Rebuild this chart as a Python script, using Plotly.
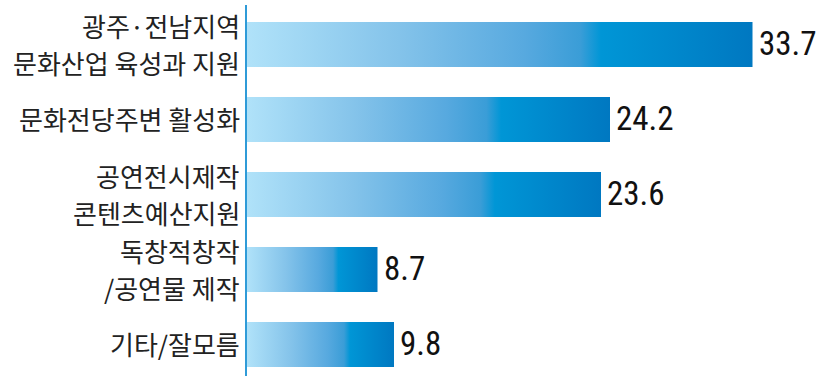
import plotly.graph_objects as go

categories = ["광주·전남지역\n문화산업 육성과 지원", "문화전당주변 활성화", "공연전시제작\n콘텐츠예산지원",
              "독창적창작\n/공연물 제작", "기타/잘모름"]
values = [33.7, 24.2, 23.6, 8.7, 9.8]
value_labels = ["33.7", "24.2", "23.6", "8.7", "9.8"]

grad = [[0.0, "#b0e2f9"], [0.3, "#84c3ea"], [0.55, "#57a9df"], [0.66, "#3a9dd7"],
        [0.70, "#0096d6"], [1.0, "#0078c1"]]

fig = go.Figure()
half = 0.3
for i, (c, v) in enumerate(zip(categories, values)):
    fig.add_trace(go.Scatter(
        x=[0, v, v, 0, 0], y=[i - half, i - half, i + half, i + half, i - half],
        mode="lines", line=dict(width=0), fill="toself",
        fillgradient=dict(type="horizontal", colorscale=grad),
        hoverinfo="skip", showlegend=False))

annotations = []
for i, (c, v, t) in enumerate(zip(categories, values, value_labels)):
    annotations.append(dict(x=v, y=i, xref="x", yref="y", text=t, showarrow=False,
                            xanchor="left", yanchor="middle", xshift=4, yshift=1,
                            font=dict(family="Liberation Sans Narrow, Roboto Condensed, DejaVu Sans Condensed, sans-serif",
                                      size=33, color="#111111")))
    lines = c.split("\n")
    n = len(lines)
    for k, ln in enumerate(lines):
        annotations.append(dict(x=0, y=i, xref="paper", yref="y", text=ln, showarrow=False,
                                xanchor="right", yanchor="middle", xshift=-5,
                                yshift=(n - 1) / 2 * 37 - k * 37 + 1,
                                font=dict(family="Noto Sans CJK KR", size=26, color="#222222")))

fig.update_layout(
    width=817, height=376,
    margin=dict(l=247, r=0, t=5, b=0),
    paper_bgcolor="white", plot_bgcolor="white",
    xaxis=dict(range=[0, 38.0], visible=False, fixedrange=True),
    yaxis=dict(range=[4.42, -0.527], showticklabels=False, showgrid=False, zeroline=False,
               showline=True, linecolor="#2f9bd8", linewidth=2, ticks="", fixedrange=True),
    annotations=annotations,
)

fig.write_html("out.html")
